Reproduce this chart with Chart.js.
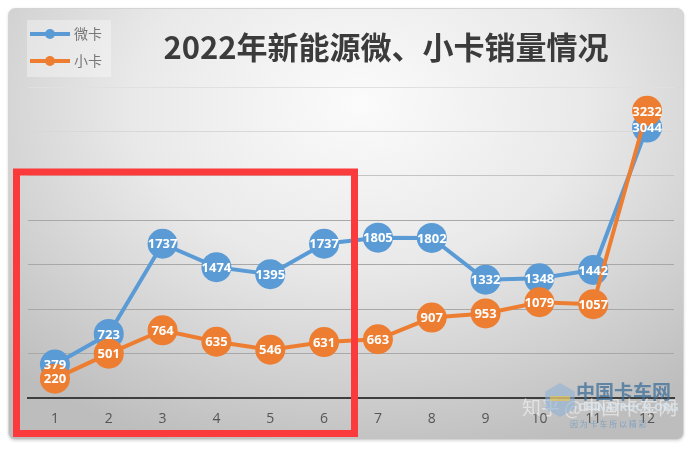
<!DOCTYPE html>
<html>
<head>
<meta charset="utf-8">
<script src="https://cdn.jsdelivr.net/npm/chart.js@4/dist/chart.umd.min.js"></script>
<style>
  html, body { margin: 0; padding: 0; background: #fff; }
  #wrap { position: relative; width: 700px; height: 452px; }
  #panel {
    position: absolute; left: 8px; top: 8px; width: 674px; height: 430px;
    border-radius: 7px; border: 1px solid #d4d4d4;
    background: radial-gradient(ellipse 75% 85% at 52% 22%, #fbfbfb 0%, #e9e9e9 45%, #cdcdcd 80%, #bdbdbd 100%);
    box-shadow: 0 1px 3px rgba(0,0,0,0.15);
  }
  #c { position: absolute; left: 0; top: 0; }
</style>
</head>
<body>
<div id="wrap">
  <div id="panel"></div>
  <canvas id="c" width="700" height="452"></canvas>
</div>
<script>
// Data
const months = ['1', '2', '3', '4', '5', '6', '7', '8', '9', '10', '11', '12'];
const microTruck = [379, 723, 1737, 1474, 1395, 1737, 1805, 1802, 1332, 1348, 1442, 3044];
const lightTruck = [220, 501, 764, 635, 546, 631, 663, 907, 953, 1079, 1057, 3232];
const seriesNames = ['微卡', '小卡'];
const titleText = '2022年新能源微、小卡销量情况';

const BLUE = '#5b9bd5';
const ORANGE = '#ed7d31';

// gridlines fade out towards the bright top of the panel
function gridColor(c) {
  const v = c.tick ? c.tick.value : 0;
  if (v >= 3500) return '#e0e0e0';
  if (v >= 3000) return '#d8d8d8';
  if (v >= 2500) return '#c4c4c4';
  return '#a8a8a8';
}

// title, legend, value labels, highlight box and watermark
const decorPlugin = {
  id: 'decor',
  afterDatasetsDraw(chart) {
    const ctx = chart.ctx;
    ctx.save();
    ctx.font = 'bold 13px "Open Sans", sans-serif';
    ctx.textAlign = 'center';
    ctx.textBaseline = 'middle';
    ctx.fillStyle = '#ffffff';
    chart.data.datasets.forEach((ds, i) => {
      const meta = chart.getDatasetMeta(i);
      meta.data.forEach((pt, j) => {
        ctx.fillText(String(ds.data[j]), pt.x, pt.y + 1);
      });
    });
    ctx.restore();
  },
  afterDraw(chart) {
    const ctx = chart.ctx;
    ctx.save();

    // title
    ctx.fillStyle = '#3b3b3b';
    ctx.textBaseline = 'middle';
    ctx.textAlign = 'center';
    ctx.font = 'bold 31px "Noto Sans CJK SC", sans-serif';
    ctx.fillText(titleText, 386, 47);

    // legend box
    ctx.fillStyle = 'rgba(255,255,255,0.35)';
    ctx.fillRect(27, 20, 84, 57);
    const colors = [BLUE, ORANGE];
    seriesNames.forEach((name, i) => {
      const y = 34 + i * 27;
      ctx.strokeStyle = colors[i];
      ctx.lineWidth = 4;
      ctx.beginPath();
      ctx.moveTo(30, y);
      ctx.lineTo(70, y);
      ctx.stroke();
      ctx.fillStyle = colors[i];
      ctx.beginPath();
      ctx.arc(50, y, 5, 0, Math.PI * 2);
      ctx.fill();
      ctx.fillStyle = '#777';
      ctx.font = '14px "Noto Sans CJK SC", sans-serif';
      ctx.textAlign = 'left';
      ctx.fillText(name, 74, y);
    });

    // red highlight box
    ctx.strokeStyle = '#fb3b3b';
    ctx.lineWidth = 7;
    ctx.strokeRect(16.5, 172, 338, 261.5);

    // watermark
    ctx.textAlign = 'left';
    ctx.globalAlpha = 0.5;
    ctx.fillStyle = '#ffffff';
    ctx.font = '19px "Noto Sans CJK SC", sans-serif';
    ctx.fillText('知乎 @中国卡车网', 522, 408);
    ctx.globalAlpha = 0.6;
    ctx.fillStyle = '#8fb3d3';
    ctx.beginPath();
    const hx = 560, hy = 400, hr = 17;
    for (let k = 0; k < 6; k++) {
      const a = Math.PI / 6 + k * Math.PI / 3;
      const px = hx + hr * Math.cos(a), py = hy + hr * Math.sin(a);
      if (k === 0) ctx.moveTo(px, py); else ctx.lineTo(px, py);
    }
    ctx.closePath();
    ctx.fill();
    ctx.fillStyle = '#f2c744';
    ctx.fillRect(550, 396, 20, 5);
    ctx.globalAlpha = 0.75;
    ctx.fillStyle = '#3f6f9a';
    ctx.font = 'bold 19px "Noto Sans CJK SC", sans-serif';
    ctx.fillText('中国卡车网', 576, 392);
    ctx.fillStyle = '#dce8f2';
    ctx.font = 'bold 10px "DejaVu Sans", sans-serif';
    ctx.fillText('CHINATRUCK.ORG', 578, 408);
    ctx.fillStyle = '#6f9ac0';
    ctx.font = '8px "Noto Sans CJK SC", sans-serif';
    ctx.fillText('因 为 卡 车 所 以 精 彩', 570, 424);
    ctx.restore();
  }
};

const ctx = document.getElementById('c').getContext('2d');
new Chart(ctx, {
  type: 'line',
  data: {
    labels: months,
    datasets: [
      {
        label: seriesNames[0],
        data: microTruck,
        borderColor: BLUE,
        backgroundColor: BLUE,
        borderWidth: 4,
        pointRadius: 15,
        pointBorderWidth: 0,
        tension: 0,
        order: 1
      },
      {
        label: seriesNames[1],
        data: lightTruck,
        borderColor: ORANGE,
        backgroundColor: ORANGE,
        borderWidth: 4,
        pointRadius: 15,
        pointBorderWidth: 0,
        tension: 0,
        order: 0
      }
    ]
  },
  options: {
    responsive: false,
    animation: false,
    events: [],
    layout: { padding: { left: 28, right: 26, top: 87, bottom: 13 } },
    plugins: {
      legend: { display: false },
      title: { display: false },
      tooltip: { enabled: false }
    },
    scales: {
      x: {
        offset: true,
        grid: { display: false, drawTicks: false },
        border: { display: true, color: '#3e3e3e', width: 2 },
        ticks: { color: '#555', font: { size: 14, family: '"Open Sans", sans-serif' }, padding: 12 }
      },
      y: {
        min: 0,
        max: 3500,
        ticks: { display: false, stepSize: 500 },
        grid: { color: gridColor, lineWidth: 1, drawTicks: false },
        border: { display: false }
      }
    }
  },
  plugins: [decorPlugin]
});
</script>
</body>
</html>
